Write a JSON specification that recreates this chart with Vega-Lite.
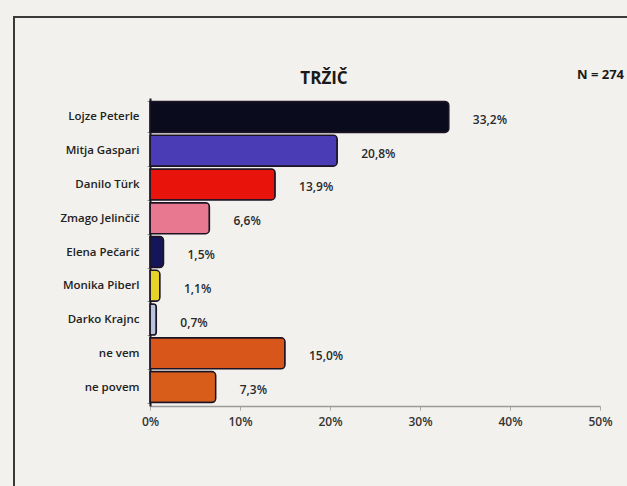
{
  "$schema": "https://vega.github.io/schema/vega-lite/v6.json",
  "width": 620,
  "height": 475,
  "autosize": {"type": "none"},
  "padding": {"left": 14, "top": 17, "right": 0, "bottom": 0},
  "background": "#f3f1ed",
  "title": {"text": "TRŽIČ", "anchor": "middle", "frame": "group", "offset": -77, "font": "Open Sans", "fontSize": 17, "fontWeight": "bold", "color": "#1a1a1a"},
  "config": {"view": {"stroke": "#3a3a3a", "strokeWidth": 2}, "font": "Open Sans"},
  "data": {
    "values": [
      {"name": "Lojze Peterle", "value": 33.2, "label": "33,2%"},
      {"name": "Mitja Gaspari", "value": 20.8, "label": "20,8%"},
      {"name": "Danilo Türk", "value": 13.9, "label": "13,9%"},
      {"name": "Zmago Jelinčič", "value": 6.6, "label": "6,6%"},
      {"name": "Elena Pečarič", "value": 1.5, "label": "1,5%"},
      {"name": "Monika Piberl", "value": 1.1, "label": "1,1%"},
      {"name": "Darko Krajnc", "value": 0.7, "label": "0,7%"},
      {"name": "ne vem", "value": 15.0, "label": "15,0%"},
      {"name": "ne povem", "value": 7.3, "label": "7,3%"}
    ]
  },
  "encoding": {
    "y": {
      "field": "name", "type": "nominal", "sort": null,
      "scale": {"range": [81, 389], "paddingInner": 0.08, "paddingOuter": 0.1},
      "axis": {"orient": "left", "offset": -136, "title": null, "labelFontSize": 11.5, "labelFontWeight": 600, "labelColor": "#222222", "labelPadding": 8, "tickSize": 3, "tickColor": "#999999", "tickBand": "extent", "domainColor": "#1a1a1a", "domainWidth": 2}
    }
  },
  "layer": [
    {
      "mark": {"type": "bar", "stroke": "#1c1424", "strokeWidth": 1.5, "cornerRadiusEnd": 4},
      "encoding": {
        "x": {
          "field": "value", "type": "quantitative",
          "scale": {"domain": [0, 50], "range": [136, 586], "nice": false},
          "axis": {"orient": "bottom", "offset": -86, "values": [0, 10, 20, 30, 40, 50], "labelExpr": "datum.value + '%'", "labelFlush": false, "title": null, "grid": false, "domainColor": "#9a9a9a", "domainWidth": 1.5, "tickColor": "#aaaaaa", "tickSize": 4, "labelPadding": 6, "labelFontSize": 12, "labelFontWeight": 600, "labelColor": "#333333"}
        },
        "color": {
          "field": "name", "type": "nominal", "legend": null,
          "scale": {
            "domain": ["Lojze Peterle", "Mitja Gaspari", "Danilo Türk", "Zmago Jelinčič", "Elena Pečarič", "Monika Piberl", "Darko Krajnc", "ne vem", "ne povem"],
            "range": ["#0b0b1e", "#4a3cb4", "#e8140c", "#e87890", "#15155a", "#e8d428", "#b8c4dc", "#d8561a", "#d85c1a"]
          }
        }
      }
    },
    {
      "mark": {"type": "text", "align": "left", "baseline": "middle", "dx": 24, "dy": 3, "fontSize": 12, "fontWeight": 600, "color": "#2a2a2a"},
      "encoding": {
        "x": {
          "field": "value", "type": "quantitative",
          "axis": {"orient": "top", "offset": -64, "title": "N = 274", "titleAnchor": "end", "titleAlign": "center", "titleFontSize": 13, "titleFontWeight": "bold", "titleColor": "#1a1a1a", "titlePadding": 0, "labels": false, "ticks": false, "domain": false, "grid": false}
        },
        "text": {"field": "label"}
      }
    }
  ],
  "resolve": {"axis": {"x": "independent"}}
}
